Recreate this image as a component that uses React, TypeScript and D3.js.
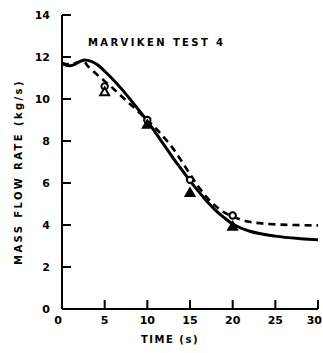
import React from "react";
import * as d3 from "d3";

// Time (s) vs mass flow rate (kg/s)
const solidTime = [0, 0.5, 1.2, 2.5, 3.5, 4.2, 5, 6, 7, 8, 9, 10, 11.5, 13, 14, 15, 16, 17, 18, 19, 20, 22, 25, 28, 30];
const solidRate = [11.7, 11.6, 11.6, 11.85, 11.78, 11.62, 11.32, 10.92, 10.47, 9.98, 9.47, 8.95, 8.08, 7.2, 6.65, 6.1, 5.6, 5.12, 4.7, 4.35, 4.05, 3.7, 3.47, 3.35, 3.3];

const dashedTime = [0, 1, 2.5, 3, 4, 5, 6, 7, 8, 9, 10, 11, 12, 13, 14, 15, 16, 17, 18, 19, 20, 22, 25, 30];
const dashedRate = [11.7, 11.65, 11.8, 11.58, 11.2, 10.85, 10.5, 10.12, 9.75, 9.38, 9.0, 8.6, 8.15, 7.65, 7.05, 6.42, 5.82, 5.3, 4.9, 4.6, 4.4, 4.15, 4.03, 3.98];

const circleTime = [5, 10, 15, 20];
const circleRate = [10.6, 9.0, 6.15, 4.45];

const triangleTime = [5, 10, 15, 20];
const triangleRate = [10.3, 8.75, 5.5, 3.9];
const triangleFilled = [false, true, true, true];

const xTicks = [0, 5, 10, 15, 20, 25, 30];
const yTicks = [0, 2, 4, 6, 8, 10, 12, 14];

const title = "MARVIKEN TEST 4";
const xTitle = "TIME (s)";
const yTitle = "MASS FLOW RATE (kg/s)";

const W = 323;
const H = 353;

export default function App() {
  const x = d3.scaleLinear().domain([0, 30]).range([62, 318]);
  const y = d3.scaleLinear().domain([0, 14]).range([309, 15]);

  const line = d3
    .line<[number, number]>()
    .x((d) => x(d[0]))
    .y((d) => y(d[1]))
    .curve(d3.curveCatmullRom.alpha(0.5));

  const solidPts = solidTime.map((t, i) => [t, solidRate[i]] as [number, number]);
  const dashedPts = dashedTime.map((t, i) => [t, dashedRate[i]] as [number, number]);

  const font = "'DejaVu Sans', sans-serif";
  const tri = d3.symbol().type(d3.symbolTriangle).size(34);

  return (
    <svg
      width={W}
      height={H}
      style={{ position: "absolute", left: 0, top: 0, background: "#fff" }}
    >
      {/* axes */}
      <line x1={x(0)} x2={x(0)} y1={y(14)} y2={y(0)} stroke="#000" strokeWidth={2} />
      <line x1={x(0)} x2={x(30)} y1={y(0)} y2={y(0)} stroke="#000" strokeWidth={2} />
      {yTicks.map((v) => (
        <g key={"y" + v}>
          <line x1={x(0)} x2={x(0) + 9} y1={y(v)} y2={y(v)} stroke="#000" strokeWidth={2} />
          <text
            x={50}
            y={y(v)}
            dy="0.35em"
            textAnchor="end"
            fontFamily={font}
            fontWeight="bold"
            fontSize={11}
          >
            {v}
          </text>
        </g>
      ))}
      {xTicks.map((v, i) => {
        const last = i === xTicks.length - 1;
        return (
          <g key={"x" + v}>
            <line x1={x(v)} x2={x(v)} y1={y(0)} y2={y(0) - 9} stroke="#000" strokeWidth={2} />
            <text
              x={v === 0 ? x(v) - 4 : last ? W - 1 : x(v)}
              y={324}
              textAnchor={last ? "end" : "middle"}
              fontFamily={font}
              fontWeight="bold"
              fontSize={11}
            >
              {v}
            </text>
          </g>
        );
      })}

      {/* curves */}
      <path d={line(dashedPts) || ""} fill="none" stroke="#000" strokeWidth={2.6} strokeDasharray="7,5" />
      <path d={line(solidPts) || ""} fill="none" stroke="#000" strokeWidth={3} />

      {/* measured points */}
      {circleTime.map((t, i) => (
        <circle
          key={"c" + i}
          cx={x(t)}
          cy={y(circleRate[i])}
          r={3.2}
          fill="#fff"
          stroke="#000"
          strokeWidth={2}
        />
      ))}
      {triangleTime.map((t, i) => (
        <path
          key={"t" + i}
          d={tri() || ""}
          transform={`translate(${x(t)},${y(triangleRate[i])})`}
          fill={triangleFilled[i] ? "#000" : "#fff"}
          stroke="#000"
          strokeWidth={2}
        />
      ))}

      {/* titles */}
      <text
        x={88}
        y={46}
        fontFamily={font}
        fontWeight="bold"
        fontSize={10}
        letterSpacing={2.4}
      >
        {title}
      </text>
      <text
        x={170}
        y={343}
        textAnchor="middle"
        fontFamily={font}
        fontWeight="bold"
        fontSize={10}
        letterSpacing={1.5}
      >
        {xTitle}
      </text>
      <text
        transform="translate(22,172) rotate(-90)"
        textAnchor="middle"
        fontFamily={font}
        fontWeight="bold"
        fontSize={10}
        letterSpacing={2.4}
      >
        {yTitle}
      </text>
    </svg>
  );
}
